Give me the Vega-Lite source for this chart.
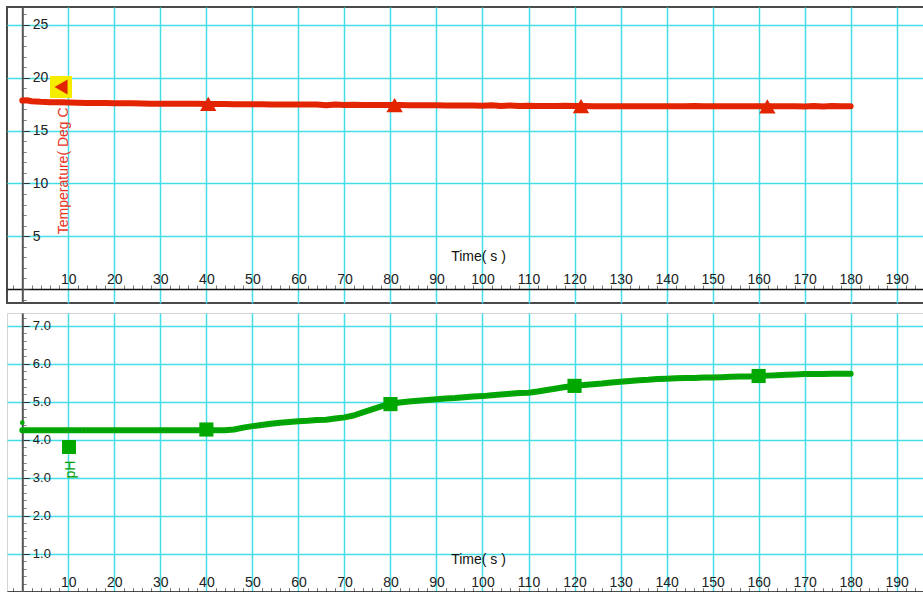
{
  "$schema": "https://vega.github.io/schema/vega-lite/v6.json",
  "background": "white",
  "padding": {"left": 6, "top": 6, "right": 0, "bottom": 0},
  "spacing": 3,
  "config": {
    "font": "Liberation Sans",
    "axis": {"labelFont": "Liberation Sans", "titleFont": "Liberation Sans"},
    "legend": {"labelFont": "Liberation Sans"}
  },
  "resolve": {"scale": {"color": "independent"}, "legend": {"color": "independent"}},
  "datasets": {
    "temp": [
      {"t": 0, "v": 17.84}, {"t": 1, "v": 17.87}, {"t": 2, "v": 17.78}, {"t": 4, "v": 17.72}, {"t": 6, "v": 17.69},
      {"t": 8, "v": 17.67}, {"t": 10, "v": 17.65}, {"t": 12, "v": 17.64}, {"t": 14, "v": 17.62}, {"t": 16, "v": 17.61},
      {"t": 18, "v": 17.6}, {"t": 20, "v": 17.59}, {"t": 22, "v": 17.58}, {"t": 24, "v": 17.58}, {"t": 26, "v": 17.57},
      {"t": 28, "v": 17.55}, {"t": 30, "v": 17.55}, {"t": 32, "v": 17.54}, {"t": 34, "v": 17.54}, {"t": 36, "v": 17.53},
      {"t": 38, "v": 17.53}, {"t": 40, "v": 17.52}, {"t": 42, "v": 17.51}, {"t": 44, "v": 17.51}, {"t": 46, "v": 17.5},
      {"t": 48, "v": 17.5}, {"t": 50, "v": 17.49}, {"t": 52, "v": 17.49}, {"t": 54, "v": 17.48}, {"t": 56, "v": 17.48},
      {"t": 58, "v": 17.47}, {"t": 60, "v": 17.47}, {"t": 62, "v": 17.46}, {"t": 64, "v": 17.46}, {"t": 66, "v": 17.4},
      {"t": 68, "v": 17.47}, {"t": 70, "v": 17.41}, {"t": 72, "v": 17.45}, {"t": 74, "v": 17.42}, {"t": 76, "v": 17.43},
      {"t": 78, "v": 17.42}, {"t": 80, "v": 17.41}, {"t": 82, "v": 17.41}, {"t": 84, "v": 17.4}, {"t": 86, "v": 17.4},
      {"t": 88, "v": 17.39}, {"t": 90, "v": 17.39}, {"t": 92, "v": 17.38}, {"t": 94, "v": 17.38}, {"t": 96, "v": 17.37},
      {"t": 98, "v": 17.37}, {"t": 100, "v": 17.36}, {"t": 102, "v": 17.4}, {"t": 104, "v": 17.33}, {"t": 106, "v": 17.38},
      {"t": 108, "v": 17.33}, {"t": 110, "v": 17.34}, {"t": 112, "v": 17.33}, {"t": 114, "v": 17.33}, {"t": 116, "v": 17.32},
      {"t": 118, "v": 17.35}, {"t": 120, "v": 17.32}, {"t": 122, "v": 17.32}, {"t": 124, "v": 17.31}, {"t": 126, "v": 17.31},
      {"t": 128, "v": 17.31}, {"t": 130, "v": 17.31}, {"t": 132, "v": 17.3}, {"t": 134, "v": 17.3}, {"t": 136, "v": 17.3},
      {"t": 138, "v": 17.3}, {"t": 140, "v": 17.3}, {"t": 142, "v": 17.3}, {"t": 144, "v": 17.3}, {"t": 146, "v": 17.33},
      {"t": 148, "v": 17.3}, {"t": 150, "v": 17.3}, {"t": 152, "v": 17.3}, {"t": 154, "v": 17.3}, {"t": 156, "v": 17.3},
      {"t": 158, "v": 17.3}, {"t": 160, "v": 17.3}, {"t": 162, "v": 17.3}, {"t": 164, "v": 17.3}, {"t": 166, "v": 17.3},
      {"t": 168, "v": 17.31}, {"t": 170, "v": 17.28}, {"t": 172, "v": 17.32}, {"t": 174, "v": 17.29}, {"t": 176, "v": 17.32},
      {"t": 178, "v": 17.3}, {"t": 180, "v": 17.31}
    ],
    "tmark": [
      {"t": 40.4, "v": 17.52, "s": "Temperature"},
      {"t": 80.9, "v": 17.41, "s": "Temperature"},
      {"t": 121.4, "v": 17.32, "s": "Temperature"},
      {"t": 161.9, "v": 17.3, "s": "Temperature"}
    ],
    "ph": [
      {"t": 0, "v": 4.25}, {"t": 2, "v": 4.25}, {"t": 4, "v": 4.25}, {"t": 6, "v": 4.25}, {"t": 8, "v": 4.25},
      {"t": 10, "v": 4.25}, {"t": 12, "v": 4.25}, {"t": 14, "v": 4.25}, {"t": 16, "v": 4.25}, {"t": 18, "v": 4.25},
      {"t": 20, "v": 4.25}, {"t": 22, "v": 4.25}, {"t": 24, "v": 4.25}, {"t": 26, "v": 4.25}, {"t": 28, "v": 4.25},
      {"t": 30, "v": 4.25}, {"t": 32, "v": 4.25}, {"t": 34, "v": 4.25}, {"t": 36, "v": 4.25}, {"t": 38, "v": 4.25},
      {"t": 40, "v": 4.25}, {"t": 42, "v": 4.25}, {"t": 44, "v": 4.25}, {"t": 46, "v": 4.27}, {"t": 48, "v": 4.32},
      {"t": 50, "v": 4.36}, {"t": 52, "v": 4.39}, {"t": 54, "v": 4.42}, {"t": 56, "v": 4.45}, {"t": 58, "v": 4.47},
      {"t": 60, "v": 4.49}, {"t": 62, "v": 4.5}, {"t": 64, "v": 4.52}, {"t": 66, "v": 4.53}, {"t": 68, "v": 4.56},
      {"t": 70, "v": 4.59}, {"t": 72, "v": 4.64}, {"t": 74, "v": 4.72}, {"t": 76, "v": 4.8}, {"t": 78, "v": 4.88},
      {"t": 80, "v": 4.95}, {"t": 82, "v": 4.98}, {"t": 84, "v": 5.01}, {"t": 86, "v": 5.03}, {"t": 88, "v": 5.05},
      {"t": 90, "v": 5.07}, {"t": 92, "v": 5.09}, {"t": 94, "v": 5.1}, {"t": 96, "v": 5.12}, {"t": 98, "v": 5.14},
      {"t": 100, "v": 5.15}, {"t": 102, "v": 5.17}, {"t": 104, "v": 5.19}, {"t": 106, "v": 5.21}, {"t": 108, "v": 5.23},
      {"t": 110, "v": 5.24}, {"t": 112, "v": 5.27}, {"t": 114, "v": 5.31}, {"t": 116, "v": 5.35}, {"t": 118, "v": 5.39},
      {"t": 120, "v": 5.42}, {"t": 122, "v": 5.44}, {"t": 124, "v": 5.46}, {"t": 126, "v": 5.48}, {"t": 128, "v": 5.51},
      {"t": 130, "v": 5.53}, {"t": 132, "v": 5.55}, {"t": 134, "v": 5.57}, {"t": 136, "v": 5.58}, {"t": 138, "v": 5.6},
      {"t": 140, "v": 5.61}, {"t": 142, "v": 5.62}, {"t": 144, "v": 5.63}, {"t": 146, "v": 5.63}, {"t": 148, "v": 5.64},
      {"t": 150, "v": 5.64}, {"t": 152, "v": 5.65}, {"t": 154, "v": 5.66}, {"t": 156, "v": 5.67}, {"t": 158, "v": 5.67},
      {"t": 160, "v": 5.68}, {"t": 162, "v": 5.69}, {"t": 164, "v": 5.7}, {"t": 166, "v": 5.71}, {"t": 168, "v": 5.72},
      {"t": 170, "v": 5.73}, {"t": 172, "v": 5.73}, {"t": 174, "v": 5.73}, {"t": 176, "v": 5.74}, {"t": 178, "v": 5.74},
      {"t": 180, "v": 5.74}
    ],
    "pmark": [
      {"t": 40, "v": 4.27, "s": "pH"},
      {"t": 80, "v": 4.94, "s": "pH"},
      {"t": 120, "v": 5.42, "s": "pH"},
      {"t": 160, "v": 5.68, "s": "pH"}
    ],
    "pdot": [
      {"t": 0, "v": 4.45}
    ]
  },
  "vconcat": [
    {
      "width": 920,
      "height": 296,
      "view": {"stroke": "#4a4a4a", "strokeWidth": 2},
      "layer": [
        {
          "data": {"name": "temp"},
          "mark": {"type": "line", "color": "#e32400", "strokeWidth": 6, "strokeJoin": "round", "strokeCap": "round"},
          "encoding": {
            "x": {
              "field": "t", "type": "quantitative",
              "scale": {"domain": [-3.325, 196.59], "nice": false, "zero": false},
              "axis": {
                "orient": "bottom", "offset": -14, "tickCount": 1000,
                "values": [-2,0,2,4,6,8,10,12,14,16,18,20,22,24,26,28,30,32,34,36,38,40,42,44,46,48,50,52,54,56,58,60,62,64,66,68,70,72,74,76,78,80,82,84,86,88,90,92,94,96,98,100,102,104,106,108,110,112,114,116,118,120,122,124,126,128,130,132,134,136,138,140,142,144,146,148,150,152,154,156,158,160,162,164,166,168,170,172,174,176,178,180,182,184,186,188,190,192,194,196],
                "format": "d",
                "domainColor": "#111", "domainWidth": 1.5,
                "tickSize": -4, "tickColor": "#777", "tickWidth": 1,
                "tickOpacity": {"condition": {"test": "datum.value % 10 === 0", "value": 0}, "value": 1},
                "grid": true, "gridColor": "#45dde9", "gridWidth": 1.5,
                "gridOpacity": {"condition": {"test": "datum.value % 10 === 0 && datum.value > 0", "value": 1}, "value": 0},
                "labelExpr": "datum.value % 10 === 0 && datum.value > 0 ? datum.label : ''",
                "labelBaseline": "alphabetic", "labelAlign": "center", "labelPadding": -1.5,
                "labelFontSize": 14, "labelColor": "#222", "labelOverlap": false, "labelFlush": false, "labelBound": false,
                "title": "Time( s )", "titleX": 471, "titleY": -32.5, "titleAlign": "center", "titleBaseline": "middle",
                "titleFontSize": 14, "titleFontWeight": "normal", "titleColor": "#111"
              }
            },
            "y": {
              "field": "v", "type": "quantitative",
              "scale": {"domain": [-1.326, 26.7], "nice": false, "zero": false},
              "axis": {
                "orient": "left", "offset": -15.3, "tickCount": 1000,
                "values": [-1,0,1,2,3,4,5,6,7,8,9,10,11,12,13,14,15,16,17,18,19,20,21,22,23,24,25,26],
                "format": "d",
                "domainColor": "#555", "domainWidth": 2,
                "tickSize": {"condition": {"test": "datum.value % 5 === 0", "value": -7}, "value": -4},
                "tickColor": {"condition": {"test": "datum.value % 5 === 0", "value": "#333"}, "value": "#888"},
                "tickWidth": 1,
                "grid": true, "gridColor": "#45dde9", "gridWidth": 1.5,
                "gridOpacity": {"condition": {"test": "datum.value % 5 === 0 && datum.value > 0", "value": 1}, "value": 0},
                "labelExpr": "datum.value % 5 === 0 && datum.value > 0 ? datum.label : ''",
                "labelAlign": "left", "labelBaseline": "middle", "labelPadding": -3,
                "labelFontSize": 14, "labelColor": "#222", "labelOverlap": false, "labelFlush": false, "labelBound": false,
                "title": "Temperature( Deg C )", "titleColor": "#e8321e", "titleX": 40.7, "titleY": 159,
                "titleAngle": 270, "titleAlign": "center", "titleBaseline": "middle",
                "titleFontSize": 14, "titleFontWeight": "normal"
              }
            }
          }
        },
        {
          "data": {"name": "tmark"},
          "mark": {"type": "point", "shape": "triangle-up", "filled": true, "size": 270, "opacity": 1},
          "encoding": {
            "x": {"field": "t", "type": "quantitative"},
            "y": {"field": "v", "type": "quantitative"},
            "color": {
              "field": "s", "type": "nominal",
              "scale": {"range": ["#e32400"]},
              "legend": {
                "orient": "none", "legendX": 43, "legendY": 69, "title": null,
                "symbolType": "triangle-left", "symbolSize": 230, "symbolFillColor": "#e32400",
                "symbolStrokeWidth": 0, "symbolOpacity": 1, "fillColor": "#f5ec00", "padding": 3,
                "labelExpr": "''", "labelOffset": 0, "labelFontSize": 1, "labelLimit": 1
              }
            }
          }
        }
      ]
    },
    {
      "width": 920,
      "height": 282,
      "view": {"stroke": "#d4d4d4", "strokeWidth": 1},
      "layer": [
        {
          "data": {"name": "ph"},
          "mark": {"type": "line", "color": "#00a800", "strokeWidth": 6, "strokeJoin": "round", "strokeCap": "round"},
          "encoding": {
            "x": {
              "field": "t", "type": "quantitative",
              "scale": {"domain": [-3.325, 196.59], "nice": false, "zero": false},
              "axis": {
                "orient": "bottom", "offset": -3.4, "tickCount": 1000,
                "values": [-2,0,2,4,6,8,10,12,14,16,18,20,22,24,26,28,30,32,34,36,38,40,42,44,46,48,50,52,54,56,58,60,62,64,66,68,70,72,74,76,78,80,82,84,86,88,90,92,94,96,98,100,102,104,106,108,110,112,114,116,118,120,122,124,126,128,130,132,134,136,138,140,142,144,146,148,150,152,154,156,158,160,162,164,166,168,170,172,174,176,178,180,182,184,186,188,190,192,194,196],
                "format": "d",
                "domainColor": "#111", "domainWidth": 1.5,
                "tickSize": -4, "tickColor": "#777", "tickWidth": 1,
                "tickOpacity": {"condition": {"test": "datum.value % 10 === 0", "value": 0}, "value": 1},
                "grid": true, "gridColor": "#45dde9", "gridWidth": 1.5,
                "gridOpacity": {"condition": {"test": "datum.value % 10 === 0 && datum.value > 0", "value": 1}, "value": 0},
                "labelExpr": "datum.value % 10 === 0 && datum.value > 0 ? datum.label : ''",
                "labelBaseline": "alphabetic", "labelAlign": "center", "labelPadding": -1.5,
                "labelFontSize": 14, "labelColor": "#222", "labelOverlap": false, "labelFlush": false, "labelBound": false,
                "title": "Time( s )", "titleX": 471, "titleY": -32.6, "titleAlign": "center", "titleBaseline": "middle",
                "titleFontSize": 14, "titleFontWeight": "normal", "titleColor": "#111"
              }
            },
            "y": {
              "field": "v", "type": "quantitative",
              "scale": {"domain": [-0.09, 7.34], "nice": false, "zero": false},
              "axis": {
                "orient": "left", "offset": -15.3, "tickCount": 1000,
                "values": [0.2,0.4,0.6,0.8,1,1.2,1.4,1.6,1.8,2,2.2,2.4,2.6,2.8,3,3.2,3.4,3.6,3.8,4,4.2,4.4,4.6,4.8,5,5.2,5.4,5.6,5.8,6,6.2,6.4,6.6,6.8,7,7.2],
                "format": ".1f",
                "domainColor": "#555", "domainWidth": 2,
                "tickSize": {"condition": {"test": "abs(datum.value - round(datum.value)) < 0.001", "value": -7}, "value": -4},
                "tickColor": {"condition": {"test": "abs(datum.value - round(datum.value)) < 0.001", "value": "#333"}, "value": "#888"},
                "tickWidth": 1,
                "grid": true, "gridColor": "#45dde9", "gridWidth": 1.5,
                "gridOpacity": {"condition": {"test": "abs(datum.value - round(datum.value)) < 0.001 && datum.value > 0.5", "value": 1}, "value": 0},
                "labelExpr": "abs(datum.value - round(datum.value)) < 0.001 && datum.value > 0.5 ? datum.label : ''",
                "labelAlign": "left", "labelBaseline": "middle", "labelPadding": -3,
                "labelFontSize": 13, "labelColor": "#222", "labelOverlap": false, "labelFlush": false, "labelBound": false,
                "title": "pH", "titleColor": "#00a000", "titleX": 48.5, "titleY": 156,
                "titleAngle": 270, "titleAlign": "center", "titleBaseline": "middle",
                "titleFontSize": 14, "titleFontWeight": "normal"
              }
            }
          }
        },
        {
          "data": {"name": "ph"},
          "mark": {"type": "line", "color": "#2b5d66", "strokeWidth": 1.2, "strokeDash": [1, 2.6], "opacity": 0.75},
          "encoding": {
            "x": {"field": "t", "type": "quantitative"},
            "y": {"field": "v", "type": "quantitative"}
          }
        },
        {
          "data": {"name": "pdot"},
          "mark": {"type": "point", "shape": "circle", "filled": true, "size": 22, "opacity": 1, "color": "#00a800"},
          "encoding": {
            "x": {"field": "t", "type": "quantitative"},
            "y": {"field": "v", "type": "quantitative"}
          }
        },
        {
          "data": {"name": "pmark"},
          "mark": {"type": "point", "shape": "square", "filled": true, "size": 200, "opacity": 1},
          "encoding": {
            "x": {"field": "t", "type": "quantitative"},
            "y": {"field": "v", "type": "quantitative"},
            "color": {
              "field": "s", "type": "nominal",
              "scale": {"range": ["#00a800"]},
              "legend": {
                "orient": "none", "legendX": 55, "legendY": 127, "title": null,
                "symbolType": "square", "symbolSize": 196, "symbolFillColor": "#00a800",
                "symbolStrokeWidth": 0, "symbolOpacity": 1, "padding": 0,
                "labelExpr": "''", "labelOffset": 0, "labelFontSize": 1, "labelLimit": 1
              }
            }
          }
        }
      ]
    }
  ]
}
